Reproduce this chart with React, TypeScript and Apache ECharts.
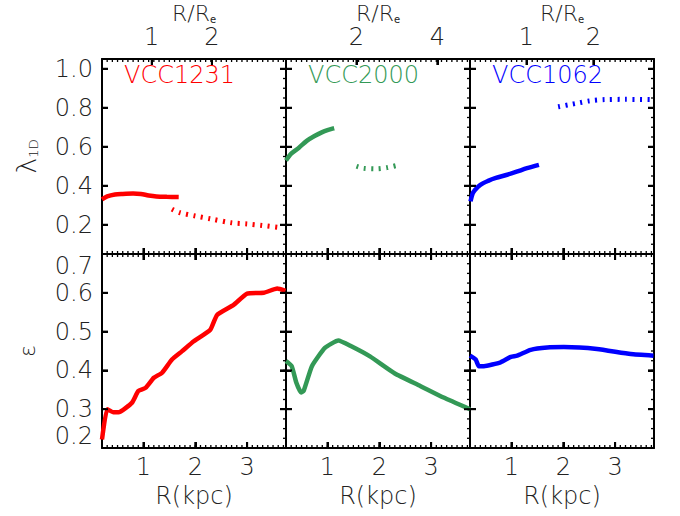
import React, { useEffect, useRef } from "react";
import * as echarts from "echarts";

// ---------- data ----------
const galaxyNames = ["VCC1231", "VCC2000", "VCC1062"];
const galaxyColors = ["#ff0000", "#339956", "#0000ff"];
// effective radius (kpc) used for the top R/Re axis
const effRadiusKpc = [1.16, 0.78, 1.29];
const topTickLabels = [[1, 2], [2, 4], [1, 2]];

const kpcTicks = [1, 2, 3];
const lambdaTicks = [0.2, 0.4, 0.6, 0.8, 1.0];
const epsTicks = [0.2, 0.3, 0.4, 0.5, 0.6, 0.7];

// lambda_1D : solid (inner) and dotted (outer) profiles, [R(kpc), value]
const vcc1231LambdaSolid = [
  [0.2, 0.33], [0.3, 0.345], [0.45, 0.355], [0.6, 0.358], [0.8, 0.36], [0.95, 0.358],
  [1.1, 0.35], [1.25, 0.345], [1.45, 0.343], [1.68, 0.342],
];
const vcc1231LambdaDotted = [
  [1.55, 0.28], [1.7, 0.262], [2.0, 0.245], [2.3, 0.23], [2.7, 0.21], [3.0, 0.204],
  [3.3, 0.196], [3.65, 0.185],
];
const vcc2000LambdaSolid = [
  [0.2, 0.53], [0.3, 0.565], [0.45, 0.595], [0.6, 0.63], [0.75, 0.655], [0.9, 0.675],
  [1.0, 0.685], [1.13, 0.695],
];
const vcc2000LambdaDotted = [
  [1.56, 0.5], [1.7, 0.49], [1.95, 0.487], [2.15, 0.493], [2.35, 0.505],
];
const vcc1062LambdaSolid = [
  [0.21, 0.32], [0.25, 0.36], [0.3, 0.38], [0.4, 0.405], [0.55, 0.425], [0.7, 0.44],
  [0.9, 0.455], [1.1, 0.472], [1.3, 0.49], [1.53, 0.507],
];
const vcc1062LambdaDotted = [
  [1.9, 0.805], [2.1, 0.815], [2.3, 0.825], [2.5, 0.835], [2.8, 0.842], [3.2, 0.843],
  [3.7, 0.842],
];

// ellipticity profiles, [R(kpc), value]
const vcc1231Eps = [
  [0.2, 0.222], [0.3, 0.3], [0.42, 0.292], [0.52, 0.292], [0.78, 0.317], [0.9, 0.347],
  [1.04, 0.355], [1.2, 0.381], [1.36, 0.394], [1.55, 0.428], [1.74, 0.449], [1.97, 0.475],
  [2.29, 0.505], [2.42, 0.543], [2.74, 0.569], [3.0, 0.598], [3.32, 0.6], [3.58, 0.611],
  [3.74, 0.605],
];
const vcc2000Eps = [
  [0.2, 0.424], [0.31, 0.411], [0.4, 0.368], [0.49, 0.343], [0.54, 0.347], [0.7, 0.411],
  [0.95, 0.458], [1.21, 0.477], [1.46, 0.462], [1.82, 0.436], [2.3, 0.392], [2.79, 0.36],
  [3.24, 0.33], [3.75, 0.3],
];
const vcc1062Eps = [
  [0.2, 0.438], [0.31, 0.428], [0.37, 0.411], [0.47, 0.411], [0.79, 0.421], [0.99, 0.435],
  [1.11, 0.438], [1.37, 0.453], [1.69, 0.459], [2.01, 0.46], [2.65, 0.455], [3.3, 0.442],
  [3.74, 0.438],
];

const lambdaSolid = [vcc1231LambdaSolid, vcc2000LambdaSolid, vcc1062LambdaSolid];
const lambdaDotted = [vcc1231LambdaDotted, vcc2000LambdaDotted, vcc1062LambdaDotted];
const epsProfiles = [vcc1231Eps, vcc2000Eps, vcc1062Eps];

// ---------- layout ----------
const X_MIN = 0.2;
const X_MAX = 3.75;
const LAMBDA_MIN = 0.05;
const LAMBDA_MAX = 1.05;
const EPS_MIN = 0.2;
const EPS_MAX = 0.7;
const colLefts = [102, 286, 470];
const colWidth = 184;
const rowTops = [59, 254];
const rowHeights = [195, 194];

const FONT = "'DejaVu Sans', sans-serif";
const TXT = "#222";
const FW = 200;
const MAJOR_LEN = 6;
const MINOR_LEN = 3;

function steps(from: number, to: number, step: number) {
  const out: number[] = [];
  const n = Math.round((to - from) / step);
  for (let i = 0; i <= n; i++) out.push(+(from + i * step).toFixed(4));
  return out;
}
const kpcMinor = steps(0.3, 3.7, 0.1);
const lambdaMinor = steps(0.1, 1.0, 0.05);
const epsMinor = steps(0.225, 0.675, 0.025);

function frame() {
  return { show: true, lineStyle: { color: "#000", width: 2 }, onZero: false };
}
function majorTick(values: number[]) {
  return {
    show: true,
    inside: true,
    length: MAJOR_LEN,
    lineStyle: { color: "#000", width: 2 },
    customValues: values,
  };
}

// one custom series per tick direction / length; each item is an [x, y] point on the frame
function tickSeries(dir: string, len: number, data: number[][], xIdx: number, yIdx: number) {
  const w = len > 4 ? 2 : 1.3;
  return {
    type: "custom",
    coordinateSystem: "cartesian2d",
    xAxisIndex: xIdx,
    yAxisIndex: yIdx,
    data,
    clip: false,
    silent: true,
    z: 5,
    renderItem: (_p: any, api: any) => {
      const p = api.coord([api.value(0), api.value(1)]);
      let x2 = p[0];
      let y2 = p[1];
      if (dir === "b") y2 = p[1] - len;
      else if (dir === "t") y2 = p[1] + len;
      else if (dir === "l") x2 = p[0] + len;
      else x2 = p[0] - len;
      return {
        type: "line",
        shape: { x1: p[0], y1: p[1], x2, y2 },
        style: { stroke: "#000", lineWidth: w },
      };
    },
  };
}

function buildOption() {
  const grid: any[] = [];
  const xAxis: any[] = [];
  const yAxis: any[] = [];
  const series: any[] = [];
  const title: any[] = [];

  for (let r = 0; r < 2; r++) {
    for (let c = 0; c < 3; c++) {
      const g = grid.length;
      grid.push({ left: colLefts[c], top: rowTops[r], width: colWidth, height: rowHeights[r] });
      const bottomRow = r === 1;
      const re = effRadiusKpc[c];

      const xMain = xAxis.length;
      xAxis.push({
        type: "value",
        gridIndex: g,
        position: "bottom",
        min: X_MIN,
        max: X_MAX,
        splitLine: { show: false },
        axisLine: frame(),
        axisTick: majorTick(kpcTicks),
        axisLabel: {
          show: bottomRow,
          customValues: kpcTicks,
          margin: 7,
          fontFamily: FONT,
          fontSize: 24,
          fontWeight: FW,
          color: TXT,
        },
        name: bottomRow ? "R(kpc)" : "",
        nameLocation: "middle",
        nameGap: 36,
        nameTextStyle: { fontFamily: FONT, fontSize: 24, fontWeight: FW, color: TXT },
      });
      if (!bottomRow) {
        xAxis.push({
          type: "value",
          gridIndex: g,
          position: "top",
          min: X_MIN / re,
          max: X_MAX / re,
          splitLine: { show: false },
          axisLine: frame(),
          axisTick: majorTick(topTickLabels[c]),
          axisLabel: {
            show: true,
            customValues: topTickLabels[c],
            margin: 10,
            fontFamily: FONT,
            fontSize: 24,
            fontWeight: FW,
            color: TXT,
          },
          name: "{a|R/R}{b|e}",
          nameLocation: "middle",
          nameGap: 35,
          nameTextStyle: {
            rich: {
              a: { fontFamily: FONT, fontSize: 22, fontWeight: FW, color: TXT, lineHeight: 24, verticalAlign: "bottom" },
              b: { fontFamily: FONT, fontSize: 10, fontWeight: 400, color: TXT, lineHeight: 10, verticalAlign: "bottom" },
            },
          },
        });
      } else {
        xAxis.push({
          type: "value",
          gridIndex: g,
          position: "top",
          min: X_MIN,
          max: X_MAX,
          splitLine: { show: false },
          axisLine: frame(),
          axisTick: majorTick(kpcTicks),
          axisLabel: { show: false },
        });
      }

      const yMin = bottomRow ? EPS_MIN : LAMBDA_MIN;
      const yMax = bottomRow ? EPS_MAX : LAMBDA_MAX;
      const yTicks = bottomRow ? epsTicks : lambdaTicks;
      const yMinorTicks = bottomRow ? epsMinor : lambdaMinor;
      const yMain = yAxis.length;
      const yLabel: any = {
        show: c === 0,
        customValues: yTicks,
        margin: 9,
        fontFamily: FONT,
        fontSize: 24,
        fontWeight: FW,
        color: TXT,
        formatter: (v: number) => v.toFixed(1),
      };
      if (bottomRow) {
        yLabel.verticalAlignMinLabel = "bottom";
        yLabel.verticalAlignMaxLabel = "top";
      }
      yAxis.push({
        type: "value",
        gridIndex: g,
        position: "left",
        min: yMin,
        max: yMax,
        splitLine: { show: false },
        axisLine: frame(),
        axisTick: majorTick(yTicks),
        axisLabel: yLabel,
        name: c === 0 ? (bottomRow ? "{l|ε}" : "{l|λ}{s|1D}") : "",
        nameLocation: "middle",
        nameRotate: 90,
        nameGap: bottomRow ? 64 : 62,
        nameTextStyle: {
          rich: {
            l: { fontFamily: FONT, fontSize: bottomRow ? 22 : 27, fontWeight: FW, color: TXT, lineHeight: 30, verticalAlign: "bottom" },
            s: { fontFamily: FONT, fontSize: 13, fontWeight: FW, color: TXT, lineHeight: 14, verticalAlign: "bottom" },
          },
        },
      });
      yAxis.push({
        type: "value",
        gridIndex: g,
        position: "right",
        min: yMin,
        max: yMax,
        splitLine: { show: false },
        axisLine: frame(),
        axisTick: majorTick(yTicks),
        axisLabel: { show: false },
      });

      // frame ticks drawn through the panel's scales
      const topMajor = bottomRow ? kpcTicks : topTickLabels[c].map((v) => v * re);
      series.push(tickSeries("b", MAJOR_LEN, kpcTicks.map((v) => [v, yMin]), xMain, yMain));
      series.push(tickSeries("b", MINOR_LEN, kpcMinor.map((v) => [v, yMin]), xMain, yMain));
      series.push(tickSeries("t", MAJOR_LEN, topMajor.map((v) => [v, yMax]), xMain, yMain));
      series.push(tickSeries("t", MINOR_LEN, kpcMinor.map((v) => [v, yMax]), xMain, yMain));
      series.push(tickSeries("l", MAJOR_LEN, yTicks.map((v) => [X_MIN, v]), xMain, yMain));
      series.push(tickSeries("r", MAJOR_LEN, yTicks.map((v) => [X_MAX, v]), xMain, yMain));
      series.push(tickSeries("r", MINOR_LEN, yMinorTicks.map((v) => [X_MAX, v]), xMain, yMain));

      const color = galaxyColors[c];
      if (!bottomRow) {
        series.push({
          type: "line",
          xAxisIndex: xMain,
          yAxisIndex: yMain,
          data: lambdaSolid[c],
          showSymbol: false,
          symbol: "none",
          smooth: 0.3,
          lineStyle: { color, width: 4.5 },
          z: 3,
        });
        series.push({
          type: "line",
          xAxisIndex: xMain,
          yAxisIndex: yMain,
          data: lambdaDotted[c],
          showSymbol: false,
          symbol: "none",
          smooth: 0.3,
          lineStyle: { color, width: 5, type: [2, 5.5] },
          z: 3,
        });
        title.push({
          text: galaxyNames[c],
          left: colLefts[c] + 22,
          top: 63,
          padding: 0,
          textStyle: { fontFamily: FONT, fontSize: 24, fontWeight: FW, color },
        });
      } else {
        series.push({
          type: "line",
          xAxisIndex: xMain,
          yAxisIndex: yMain,
          data: epsProfiles[c],
          showSymbol: false,
          symbol: "none",
          smooth: 0.15,
          lineStyle: { color, width: 4.5 },
          z: 3,
        });
      }
    }
  }

  return { animation: false, backgroundColor: "#fff", title, grid, xAxis, yAxis, series };
}

export default function App() {
  const ref = useRef<HTMLDivElement>(null);
  useEffect(() => {
    if (!ref.current) return;
    const chart = echarts.init(ref.current, undefined, { renderer: "svg" });
    chart.setOption(buildOption() as any);
    return () => chart.dispose();
  }, []);
  return <div ref={ref} style={{ position: "fixed", left: 0, top: 0, width: 680, height: 516 }} />;
}
